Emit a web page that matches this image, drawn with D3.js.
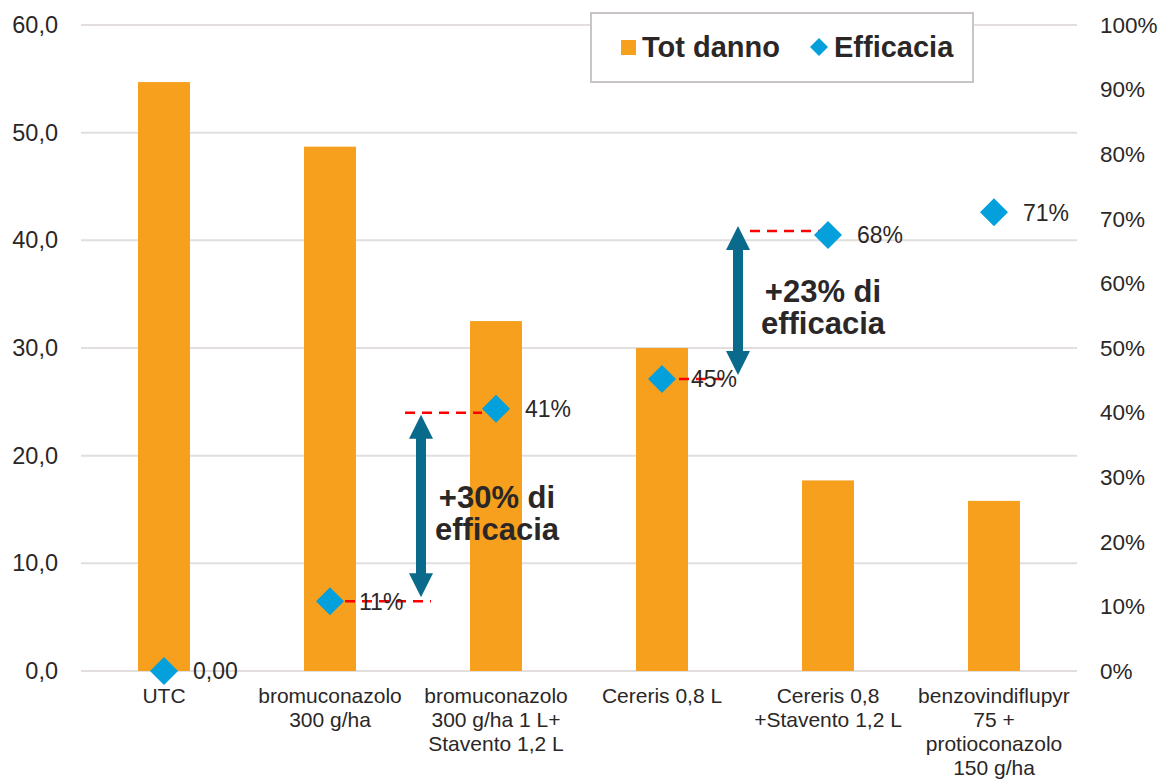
<!DOCTYPE html>
<html><head><meta charset="utf-8">
<script src="https://cdn.jsdelivr.net/npm/d3@7"></script>
<style>body{margin:0;background:#fff}svg{display:block;font-family:"Liberation Sans",Arial,sans-serif}</style>
</head><body><svg id="c" width="1162" height="779"></svg>
<script>
const categories = [
  ["UTC"],
  ["bromuconazolo","300 g/ha"],
  ["bromuconazolo","300 g/ha 1 L+","Stavento 1,2 L"],
  ["Cereris 0,8 L"],
  ["Cereris 0,8","+Stavento 1,2 L"],
  ["benzovindiflupyr","75 +","protioconazolo","150 g/ha"]
];
const totDanno = [54.7, 48.7, 32.5, 30.0, 17.7, 15.8];
const efficacia = [0.0, 0.108, 0.406, 0.452, 0.675, 0.71];
const efficaciaLabels = ["0,00", "11%", "41%", "45%", "68%", "71%"];
const leftTicks = [0,10,20,30,40,50,60];
const rightTicks = [0,0.1,0.2,0.3,0.4,0.5,0.6,0.7,0.8,0.9,1.0];
const annotations = [
  {from:1, to:2, lines:["+30% di","efficacia"]},
  {from:3, to:4, lines:["+23% di","efficacia"]}
];

const svg = d3.select("#c");
const L = 81, R = 1077, T = 25, B = 671;
const x = d3.scaleBand().domain(d3.range(categories.length)).range([L,R]).paddingInner(0.687).paddingOuter(0.3435);
const yL = d3.scaleLinear().domain([0,60]).range([B,T]);
const yR = d3.scaleLinear().domain([0,1]).range([B,T]);
const txt = "#2b2727";
const cx = i => x(i) + x.bandwidth()/2;

// gridlines
svg.append("g").selectAll("line").data(leftTicks).join("line")
  .attr("x1",L).attr("x2",R).attr("y1",d=>yL(d)).attr("y2",d=>yL(d))
  .attr("stroke","#e2dede").attr("stroke-width",2);

// left axis
const ga = svg.append("g").attr("transform",`translate(${L-20},0)`)
  .call(d3.axisLeft(yL).tickValues(leftTicks).tickSize(0).tickFormat(d=>d3.format(".1f")(d).replace(".",",")));
ga.select(".domain").remove();
ga.selectAll("text").attr("font-size",23.5).attr("fill",txt).attr("font-family","Liberation Sans, Arial");

// right axis
const gr = svg.append("g").attr("transform",`translate(${R+20},0)`)
  .call(d3.axisRight(yR).tickValues(rightTicks).tickSize(0).tickFormat(d3.format(".0%")));
gr.select(".domain").remove();
gr.selectAll("text").attr("font-size",22.5).attr("fill",txt).attr("font-family","Liberation Sans, Arial");

// bars
svg.append("g").selectAll("rect").data(totDanno).join("rect")
  .attr("x",(d,i)=>x(i)).attr("width",x.bandwidth())
  .attr("y",d=>yL(d)).attr("height",d=>B-yL(d)).attr("fill","#f7a01d");

// category labels
const cl = svg.append("g").selectAll("text").data(categories).join("text")
  .attr("x",(d,i)=>cx(i)).attr("y",703).attr("text-anchor","middle")
  .attr("font-size",21).attr("fill",txt);
cl.selectAll("tspan").data(d=>d).join("tspan")
  .attr("x",function(){return this.parentNode.getAttribute("x");})
  .attr("dy",(d,i)=>i===0?0:24).text(d=>d);

// red dashed lines & arrows
const arrowColor = "#0a6a8c";
function dash(x1,x2,y){
  svg.append("line").attr("x1",x1).attr("x2",x2).attr("y1",y).attr("y2",y)
    .attr("stroke","#ff0000").attr("stroke-width",2.5).attr("stroke-dasharray","10,7");
}
function arrow(ax,y1,y2){
  const hw=12, hl=24, sw=5;
  const p = d3.path();
  p.moveTo(ax,y1); p.lineTo(ax+hw,y1+hl); p.lineTo(ax+sw,y1+hl); p.lineTo(ax+sw,y2-hl);
  p.lineTo(ax+hw,y2-hl); p.lineTo(ax,y2); p.lineTo(ax-hw,y2-hl); p.lineTo(ax-sw,y2-hl);
  p.lineTo(ax-sw,y1+hl); p.lineTo(ax-hw,y1+hl); p.closePath();
  svg.append("path").attr("d",p.toString()).attr("fill",arrowColor);
}
{
  const a = annotations[0];
  const bx = x(a.to) - (x.step()-x.bandwidth())/2;
  const ax = bx + 8;
  const yLow = yR(efficacia[a.from]), yHigh = yR(efficacia[a.to]) + 4;
  dash(cx(a.from)+15, ax+10, yLow);
  dash(ax-16, cx(a.to)-14, yHigh);
  arrow(ax, yHigh+2, yLow-4);
}
{
  const a = annotations[1];
  const bx = x(a.to) - (x.step()-x.bandwidth())/2;
  const ax = bx - 7;
  const yLow = yR(efficacia[a.from]), yHigh = yR(efficacia[a.to]) - 4;
  dash(cx(a.from), ax-8, yLow);
  dash(ax+12, cx(a.to)-3, yHigh);
  arrow(ax, yHigh-5, yLow-4);
}

// diamonds
const dsz = 14;
svg.append("g").selectAll("path").data(efficacia).join("path")
  .attr("d",`M0,${-dsz}L${dsz},0L0,${dsz}L${-dsz},0Z`)
  .attr("transform",(d,i)=>`translate(${cx(i)},${yR(d)})`).attr("fill","#03a0dc");
svg.append("g").selectAll("text").data(efficacia).join("text")
  .attr("x",(d,i)=>cx(i)+29).attr("y",d=>yR(d)).attr("dy","0.36em")
  .attr("font-size",23).attr("fill",txt).text((d,i)=>efficaciaLabels[i]);

// annotation texts
const annPos = [[497,508],[823,302]];
annotations.forEach((a,k)=>{
  const t = svg.append("text").attr("text-anchor","middle").attr("font-size",31)
    .attr("font-weight","bold").attr("fill",txt);
  a.lines.forEach((s,i)=>t.append("tspan").attr("x",annPos[k][0]).attr("y",annPos[k][1]+i*32).text(s));
});

// legend
const lg = svg.append("g");
lg.append("rect").attr("x",591).attr("y",13).attr("width",382).attr("height",69)
  .attr("fill","#fff").attr("stroke","#c9c5c5").attr("stroke-width",2);
lg.append("rect").attr("x",621).attr("y",40).attr("width",15).attr("height",15).attr("fill","#f7a01d");
lg.append("text").attr("x",642).attr("y",57).attr("font-size",29).attr("font-weight","bold").attr("fill",txt).text("Tot danno");
lg.append("path").attr("d","M0,-9L9,0L0,9L-9,0Z").attr("transform","translate(819,47)").attr("fill","#03a0dc");
lg.append("text").attr("x",834).attr("y",57).attr("font-size",29).attr("font-weight","bold").attr("fill",txt).text("Efficacia");
</script></body></html>
